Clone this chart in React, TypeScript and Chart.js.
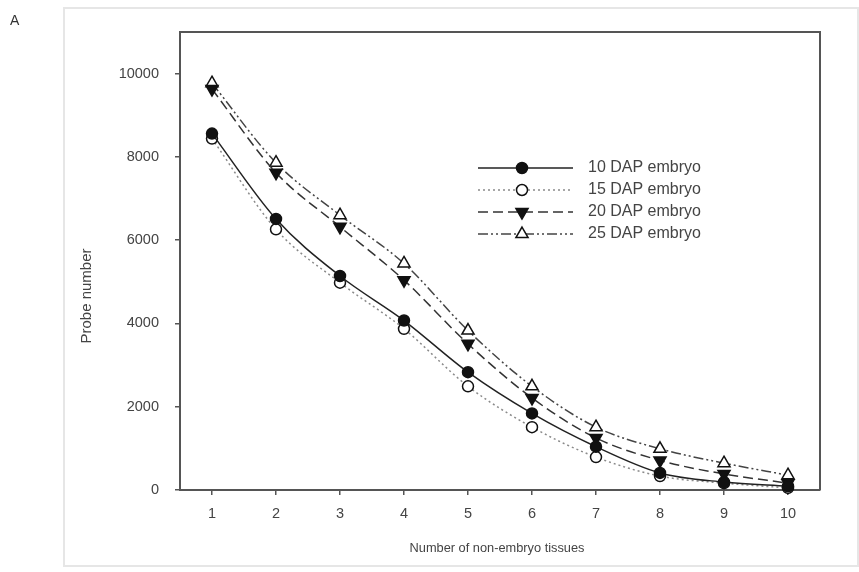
import React, { useEffect, useRef } from 'react';
import { Chart, registerables } from 'chart.js';

Chart.register(...registerables);

const xValues = [1, 2, 3, 4, 5, 6, 7, 8, 9, 10];
const dap10 = [8560, 6510, 5140, 4070, 2830, 1840, 1040, 410, 190, 90];
const dap15 = [8440, 6260, 4980, 3870, 2490, 1510, 790, 335, 165, 50];
const dap20 = [9630, 7620, 6320, 5040, 3510, 2210, 1250, 710, 385, 165];
const dap25 = [9770, 7860, 6600, 5440, 3830, 2490, 1510, 990, 645, 355];
const seriesLabels = ['10 DAP embryo', '15 DAP embryo', '20 DAP embryo', '25 DAP embryo'];
const yTicks = [0, 2000, 4000, 6000, 8000, 10000];
const xTicks = [1, 2, 3, 4, 5, 6, 7, 8, 9, 10];
const xTitle = 'Number of non-embryo tissues';
const yTitle = 'Probe number';
const panelLabel = 'A';

const FONT = '"Liberation Sans", Arial, Helvetica, sans-serif';

type Style = {
  color: string;
  dash: number[];
  point: 'circle' | 'triangle';
  rotation: number;
  fill: string;
  radius: number;
};

const styles: Style[] = [
  { color: '#222', dash: [], point: 'circle', rotation: 0, fill: '#111', radius: 5.5 },
  { color: '#8a8a8a', dash: [2, 3], point: 'circle', rotation: 0, fill: '#fff', radius: 5.5 },
  { color: '#333', dash: [10, 5], point: 'triangle', rotation: 180, fill: '#111', radius: 7 },
  { color: '#444', dash: [10, 3, 2, 3, 2, 3], point: 'triangle', rotation: 0, fill: '#fff', radius: 7 },
];

function drawMarker(ctx: CanvasRenderingContext2D, s: Style, x: number, y: number) {
  ctx.save();
  ctx.setLineDash([]);
  ctx.lineWidth = 1.5;
  ctx.strokeStyle = '#111';
  ctx.fillStyle = s.fill;
  ctx.beginPath();
  if (s.point === 'circle') {
    ctx.arc(x, y, s.radius, 0, Math.PI * 2);
  } else {
    let rad = (s.rotation * Math.PI) / 180;
    const r = s.radius;
    ctx.moveTo(x + Math.sin(rad) * r, y - Math.cos(rad) * r);
    rad += (2 * Math.PI) / 3;
    ctx.lineTo(x + Math.sin(rad) * r, y - Math.cos(rad) * r);
    rad += (2 * Math.PI) / 3;
    ctx.lineTo(x + Math.sin(rad) * r, y - Math.cos(rad) * r);
    ctx.closePath();
  }
  ctx.fill();
  ctx.stroke();
  ctx.restore();
}

const decorPlugin = {
  id: 'decor',
  beforeDraw(chart: any) {
    const ctx = chart.ctx as CanvasRenderingContext2D;
    ctx.save();
    ctx.fillStyle = '#fff';
    ctx.fillRect(0, 0, chart.width, chart.height);
    ctx.strokeStyle = '#e6e6e6';
    ctx.lineWidth = 2;
    ctx.strokeRect(64, 8, 794, 558);
    ctx.fillStyle = '#333';
    ctx.font = `14px ${FONT}`;
    ctx.textAlign = 'left';
    ctx.textBaseline = 'middle';
    ctx.fillText(panelLabel, 10, 21);
    ctx.restore();
  },
  afterDraw(chart: any) {
    const ctx = chart.ctx as CanvasRenderingContext2D;
    const a = chart.chartArea;
    ctx.save();
    ctx.strokeStyle = '#555';
    ctx.lineWidth = 2;
    ctx.beginPath();
    ctx.moveTo(a.left, a.top);
    ctx.lineTo(a.right, a.top);
    ctx.lineTo(a.right, a.bottom);
    ctx.stroke();

    ctx.fillStyle = '#444';
    ctx.font = `12.8px ${FONT}`;
    ctx.textAlign = 'center';
    ctx.textBaseline = 'middle';
    ctx.fillText(xTitle, 497, 548);
    ctx.save();
    ctx.translate(87, 296);
    ctx.rotate(-Math.PI / 2);
    ctx.font = `15px ${FONT}`;
    ctx.fillText(yTitle, 0, 0);
    ctx.restore();

    const rows = [168, 190, 212, 234];
    ctx.font = `16px ${FONT}`;
    ctx.textAlign = 'left';
    seriesLabels.forEach((lab, i) => {
      const s = styles[i];
      const y = rows[i];
      ctx.save();
      ctx.strokeStyle = s.color;
      ctx.lineWidth = 1.5;
      ctx.setLineDash(s.dash);
      ctx.beginPath();
      ctx.moveTo(478, y);
      ctx.lineTo(573, y);
      ctx.stroke();
      ctx.restore();
      drawMarker(ctx, s, 522, y);
      ctx.fillStyle = '#444';
      ctx.fillText(lab, 588, y);
    });
    ctx.restore();
  },
};

export default function App() {
  const ref = useRef<HTMLCanvasElement | null>(null);

  useEffect(() => {
    if (!ref.current) return;
    const series = [dap10, dap15, dap20, dap25];
    const chart = new Chart(ref.current, {
      type: 'line',
      data: {
        datasets: series.map((vals, i) => {
          const s = styles[i];
          return {
            label: seriesLabels[i],
            data: vals.map((v, j) => ({ x: xValues[j], y: v })),
            borderColor: s.color,
            borderWidth: 1.5,
            borderDash: s.dash,
            pointStyle: s.point,
            pointRotation: s.rotation,
            pointRadius: s.radius,
            pointBackgroundColor: s.fill,
            pointBorderColor: '#111',
            pointBorderWidth: 1.5,
            cubicInterpolationMode: 'monotone' as const,
            fill: false,
            clip: false as any,
          };
        }),
      },
      options: {
        responsive: false,
        animation: false,
        devicePixelRatio: 1,
        layout: { padding: { left: 0, top: 32, right: 39, bottom: 0 } },
        plugins: {
          legend: { display: false },
          tooltip: { enabled: false },
        },
        scales: {
          x: {
            type: 'linear',
            min: 0.5,
            max: 10.5,
            afterFit: (s: any) => {
              s.height = 82;
            },
            afterBuildTicks: (s: any) => {
              s.ticks = xTicks.map((v) => ({ value: v }));
            },
            grid: { drawOnChartArea: false, drawTicks: true, tickLength: 5, color: '#555', lineWidth: 1.5 },
            border: { display: true, color: '#555', width: 2 },
            ticks: {
              padding: 10,
              color: '#444',
              font: { family: FONT, size: 14.5 },
              maxRotation: 0,
              callback: (v: any) => String(v),
            },
          },
          y: {
            type: 'linear',
            min: 0,
            max: 11000,
            afterFit: (s: any) => {
              s.width = 180;
            },
            afterBuildTicks: (s: any) => {
              s.ticks = yTicks.map((v) => ({ value: v }));
            },
            grid: { drawOnChartArea: false, drawTicks: true, tickLength: 5, color: '#555', lineWidth: 1.5 },
            border: { display: true, color: '#555', width: 2 },
            ticks: {
              padding: 16,
              color: '#444',
              font: { family: FONT, size: 14.5 },
              callback: (v: any) => String(v),
            },
          },
        },
      },
      plugins: [decorPlugin],
    });
    return () => chart.destroy();
  }, []);

  return (
    <div style={{ position: 'fixed', left: 0, top: 0, width: 859, height: 572, background: '#fff' }}>
      <canvas ref={ref} width={859} height={572} style={{ display: 'block' }} />
    </div>
  );
}
